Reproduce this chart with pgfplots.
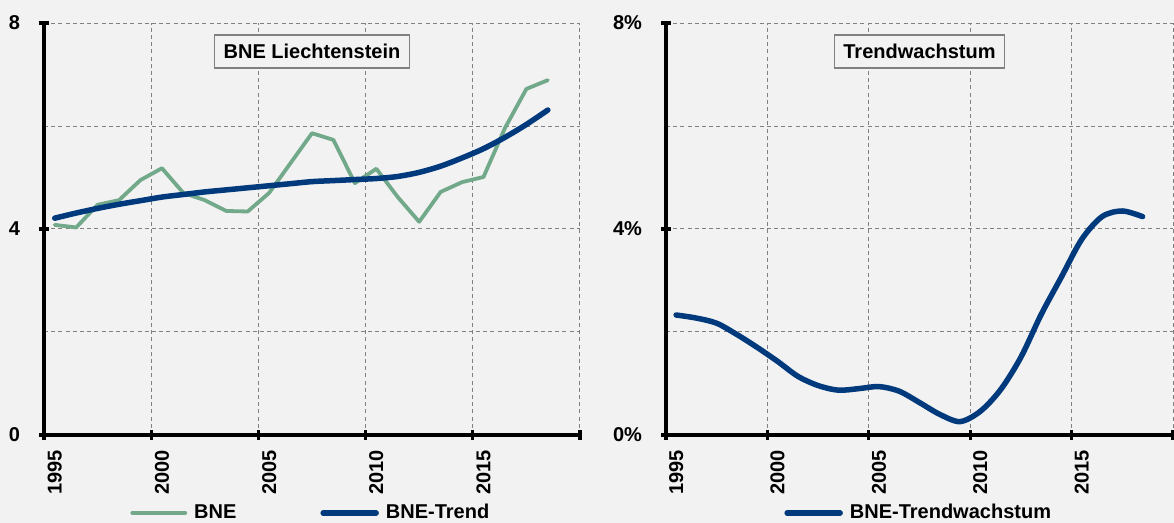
\documentclass[border=0pt]{standalone}
\usepackage{fontspec}
\setmainfont{Liberation Sans}
\usepackage{pgfplots}
\pgfplotsset{compat=1.18}
\definecolor{bg}{HTML}{F2F2F2}
\definecolor{bnegreen}{HTML}{72A98A}
\definecolor{bneblue}{HTML}{003A7D}
\definecolor{gridgray}{HTML}{808080}

\pgfplotstableread{
year bne trend
1995.5 4.08 4.21
1996.5 4.03 4.31
1997.5 4.47 4.40
1998.5 4.56 4.48
1999.5 4.95 4.55
2000.5 5.18 4.62
2001.5 4.70 4.67
2002.5 4.56 4.72
2003.5 4.35 4.76
2004.5 4.34 4.80
2005.5 4.70 4.84
2006.5 5.28 4.88
2007.5 5.86 4.92
2008.5 5.73 4.94
2009.5 4.89 4.96
2010.5 5.17 4.98
2011.5 4.62 5.02
2012.5 4.14 5.10
2013.5 4.72 5.22
2014.5 4.91 5.38
2015.5 5.01 5.56
2016.5 5.96 5.78
2017.5 6.72 6.03
2018.5 6.89 6.31
}\bnedata

\pgfplotstableread{
year growth
1995.5 2.33
1996.5 2.27
1997.5 2.17
1998.5 1.95
1999.5 1.70
2000.5 1.43
2001.5 1.14
2002.5 0.96
2003.5 0.87
2004.5 0.90
2005.5 0.94
2006.5 0.85
2007.5 0.63
2008.5 0.40
2009.5 0.26
2010.5 0.46
2011.5 0.88
2012.5 1.51
2013.5 2.34
2014.5 3.07
2015.5 3.80
2016.5 4.24
2017.5 4.35
2018.5 4.24
}\growthdata

\tikzset{
  titlebox/.style={draw=gridgray, fill=bg, line width=0.6pt,
    font=\bfseries\fontsize{10}{12}\selectfont, inner xsep=4.5pt,
    minimum height=16.5pt},
}

\pgfplotsset{
  panel/.style={
    scale only axis, height=206pt,
    axis x line=bottom, axis y line=left,
    axis line style={line width=1.6pt, -},
    xmin=1995, xmax=2020, ymin=0, ymax=8,
    xtick={1995,2000,...,2020}, xticklabels={},
    ytick={0,4,8}, minor ytick={2,6},
    grid=both,
    major grid style={gridgray, line width=0.5pt, dash pattern=on 2pt off 1.6pt},
    minor grid style={gridgray, line width=0.5pt, dash pattern=on 2pt off 1.6pt},
    major tick length=5pt, minor tick length=0pt,
    tick style={black, line width=1.6pt},
    tick align=center,
    every tick label/.append style={font=\bfseries\fontsize{10}{12}\selectfont},
    yticklabel style={xshift=-6pt},
    extra x ticks={1995.5,2000.5,2005.5,2010.5,2015.5},
    extra x tick labels={1995,2000,2005,2010,2015},
    extra x tick style={major tick length=0pt, grid=none,
      xticklabel style={yshift=-4pt, rotate=90, anchor=east}},
    legend style={draw=none, fill=none, inner sep=0pt, anchor=west,
      font=\bfseries\fontsize{10}{12}\selectfont,
      /tikz/every odd column/.append style={column sep=1.5pt},
      /tikz/every even column/.append style={column sep=40pt}},
    legend columns=2,
    legend cell align=left,
    legend image code/.code={\draw[#1] (0pt,0pt) -- (26.5pt,0pt);},
    clip=false,
  },
}

\begin{document}
\begin{tikzpicture}
\fill[bg] (0,0) rectangle (587pt,261.5pt);
\begin{axis}[panel, at={(22pt,44pt)}, width=268pt,
  yticklabels={0,4,8},
  legend style={at={(0,0)}, xshift=43pt, yshift=-39pt}]
\addplot[bnegreen, line width=1.9pt, line join=round, line cap=round] table[x=year,y=bne] {\bnedata};
\addlegendentry{BNE}
\addplot[bneblue, line width=2.75pt, smooth, tension=0.5, line cap=round] table[x=year,y=trend] {\bnedata};
\addlegendentry{BNE-Trend}
\node[titlebox] at (rel axis cs:0.5,0.931) {BNE Liechtenstein};
\end{axis}
\begin{axis}[panel, at={(333pt,44pt)}, width=253.5pt,
  yticklabels={0\%,4\%,8\%},
  legend style={at={(0,0)}, xshift=59pt, yshift=-39pt}]
\addplot[bneblue, line width=2.75pt, smooth, tension=0.5, line cap=round] table[x=year,y=growth] {\growthdata};
\addlegendentry{BNE-Trendwachstum}
\node[titlebox] at (rel axis cs:0.5,0.931) {Trendwachstum};
\end{axis}
\pgfresetboundingbox
\useasboundingbox (0,0) rectangle (587pt,261.5pt);
\end{tikzpicture}
\end{document}
